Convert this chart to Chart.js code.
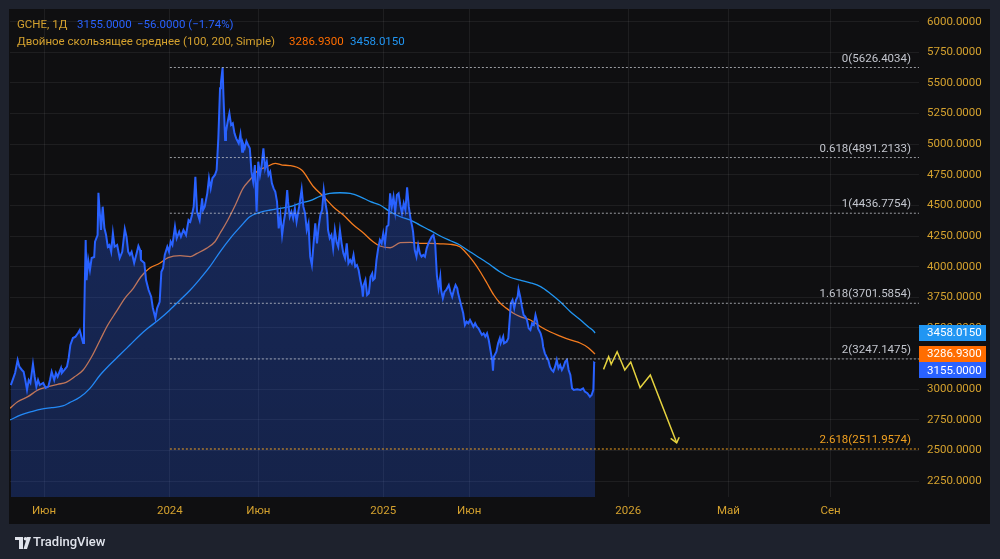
<!DOCTYPE html>
<html>
<head>
<meta charset="utf-8">
<script src="https://cdn.jsdelivr.net/npm/chart.js@4.4.1/dist/chart.umd.min.js"></script>
<style>
html,body{margin:0;padding:0;background:#1e222d;}
#c{display:block;}
</style>
</head>
<body>
<canvas id="c" width="1000" height="559"></canvas>
<script>
// ---------- DATA ----------
const xTickIdx = [40, 188, 292, 439, 540, 727, 845, 965];
const xTickLabels = ['Июн','2024','Июн','2025','Июн','2026','Май','Сен'];
const yTicks = [2250,2500,2750,3000,3250,3500,3750,4000,4250,4500,4750,5000,5250,5500,5750,6000];

// [bar index, close]
const priceSeries = [[1,3034],[4,3092],[6,3132],[9,3238],[11,3184],[14,3157],[16,3143],[18,3075],[20,2994],[22,3075],[24,3051],[27,3206],[29,3102],[31,3021],[33,3075],[35,3034],[39,3051],[42,3010],[45,3021],[47,3075],[49,3143],[52,3075],[54,3132],[56,3102],[60,3173],[61,3132],[64,3157],[67,3184],[69,3255],[71,3361],[74,3418],[77,3429],[80,3459],[82,3483],[84,3429],[86,3377],[87,3510],[89,4218],[90,3891],[92,4055],[94,3973],[96,4071],[99,4079],[100,4204],[103,4259],[104,4604],[107,4300],[109,4490],[111,4316],[113,4259],[115,4163],[117,4177],[119,4122],[121,4275],[123,4163],[126,4177],[129,4071],[132,4122],[135,4308],[137,4245],[139,4122],[141,4096],[143,4122],[146,4030],[149,4112],[151,4169],[153,4136],[154,4055],[158,4030],[160,3891],[163,3810],[166,3755],[168,3663],[171,3579],[173,3660],[176,3714],[178,3959],[180,3987],[182,4096],[185,4163],[187,4122],[189,4204],[191,4177],[194,4327],[196,4232],[199,4286],[201,4245],[204,4300],[207,4259],[210,4381],[212,4367],[214,4422],[216,4490],[218,4735],[220,4449],[223,4381],[226,4558],[227,4463],[229,4490],[232,4599],[234,4722],[236,4640],[238,4722],[241,4749],[243,4789],[245,5048],[247,5456],[248,5497],[250,5626],[251,5402],[253,5034],[254,5102],[256,5184],[258,5252],[260,5157],[262,5171],[264,5089],[266,5048],[269,5007],[271,5081],[273,4939],[274,5007],[276,4967],[278,5026],[280,4994],[282,4967],[284,4776],[286,4694],[288,4830],[290,4449],[292,4857],[294,4749],[296,4830],[298,4967],[300,4803],[302,4857],[304,4749],[306,4776],[308,4681],[310,4640],[312,4612],[314,4531],[316,4313],[318,4422],[320,4259],[322,4367],[324,4449],[326,4626],[327,4531],[329,4408],[331,4449],[333,4395],[335,4477],[337,4367],[340,4490],[343,4632],[345,4490],[347,4436],[349,4300],[351,4354],[353,4082],[355,4014],[357,4191],[359,4354],[361,4191],[363,4327],[365,4422],[367,4463],[369,4626],[371,4518],[373,4436],[374,4300],[376,4232],[378,4259],[380,4150],[382,4300],[384,4204],[386,4163],[388,4300],[390,4191],[392,4109],[394,4069],[396,4191],[398,4028],[400,4055],[402,4028],[404,4096],[406,4000],[408,4014],[410,3973],[412,3891],[414,3824],[415,3755],[416,3851],[418,3891],[420,3769],[422,3783],[424,3918],[426,3946],[427,3891],[429,3905],[431,4055],[433,4150],[435,4218],[437,4191],[439,4273],[441,4191],[443,4327],[445,4340],[447,4599],[449,4490],[451,4571],[453,4449],[455,4585],[457,4599],[459,4504],[461,4436],[463,4518],[465,4463],[467,4648],[469,4490],[471,4395],[473,4327],[474,4286],[476,4136],[478,4082],[480,4177],[482,4109],[484,4082],[486,4096],[488,4082],[490,4150],[492,4191],[494,4218],[496,4245],[498,4259],[500,4191],[502,3932],[504,3824],[506,3918],[507,3810],[509,3742],[511,3796],[513,3810],[516,3851],[518,3796],[520,3755],[522,3810],[524,3851],[526,3824],[527,3783],[529,3728],[531,3674],[533,3620],[535,3524],[537,3551],[539,3538],[541,3565],[543,3538],[545,3510],[547,3538],[549,3510],[551,3497],[553,3469],[555,3443],[557,3456],[559,3429],[561,3456],[563,3402],[565,3320],[567,3239],[568,3151],[569,3265],[572,3306],[574,3375],[576,3416],[577,3375],[580,3429],[581,3375],[584,3388],[586,3416],[587,3510],[589,3701],[591,3728],[593,3660],[595,3728],[597,3755],[598,3816],[600,3755],[602,3674],[604,3606],[606,3592],[608,3565],[610,3497],[612,3483],[614,3538],[616,3524],[618,3606],[620,3551],[621,3497],[624,3456],[626,3402],[627,3347],[629,3293],[631,3265],[633,3239],[635,3184],[637,3157],[639,3143],[641,3184],[643,3239],[645,3171],[647,3198],[649,3157],[651,3184],[653,3225],[655,3239],[657,3157],[659,3116],[661,3007],[663,2994],[667,2999],[671,2994],[674,3007],[676,2980],[679,2967],[682,2939],[684,2953],[686,2994],[687,3216],[688,3211]];

const ma100Series = [[0,2844],[9,2898],[21,2939],[33,2994],[45,3021],[56,3040],[66,3056],[76,3102],[86,3157],[96,3265],[106,3402],[115,3524],[125,3633],[135,3742],[145,3824],[154,3918],[164,3987],[176,4028],[186,4074],[200,4090],[212,4082],[220,4109],[231,4150],[241,4204],[247,4273],[255,4367],[265,4504],[274,4640],[282,4708],[290,4776],[302,4816],[312,4844],[320,4830],[329,4826],[343,4789],[357,4653],[369,4571],[380,4490],[392,4422],[404,4340],[416,4273],[427,4204],[435,4169],[447,4155],[459,4196],[471,4199],[482,4191],[494,4190],[506,4187],[518,4183],[529,4163],[537,4109],[545,4041],[553,3959],[561,3865],[569,3769],[576,3706],[584,3660],[592,3620],[600,3592],[612,3565],[624,3510],[635,3469],[647,3434],[659,3402],[671,3375],[680,3339],[687,3293],[688,3287]];

const ma200Series = [[0,2749],[13,2790],[25,2816],[37,2838],[49,2849],[62,2863],[70,2890],[82,2934],[94,3007],[106,3116],[117,3198],[129,3279],[141,3361],[153,3443],[162,3497],[176,3573],[188,3647],[200,3728],[212,3810],[224,3905],[235,4000],[247,4122],[259,4232],[271,4327],[282,4408],[294,4444],[306,4463],[318,4477],[329,4490],[341,4518],[353,4539],[365,4577],[376,4599],[388,4604],[400,4599],[412,4571],[424,4531],[435,4504],[447,4449],[459,4408],[471,4381],[482,4340],[494,4297],[506,4251],[518,4212],[529,4177],[541,4122],[553,4069],[565,4014],[576,3959],[588,3914],[600,3891],[612,3869],[624,3837],[635,3783],[647,3714],[659,3633],[671,3565],[680,3510],[687,3469],[688,3458]];

const fibLevels = [5626.4034, 4891.2133, 4436.7754, 3701.5854, 3247.1475, 2511.9574];
const fibRatios = ['0', '0.618', '1', '1.618', '2', '2.618'];
const fibStartIdx = 188;

const forecastPath = [[698,3162],[704,3265],[707,3203],[714,3306],[723,3157],[730,3222],[741,3012],[753,3116],[784,2563]];
const forecastArrow = [[777,2599],[784,2563],[787,2608]];

const lastValues = [3458.0150, 3286.9300, 3155.0000];
const lastColors = ['#2196f3', '#ff6d00', '#2962ff'];

const X_MAX = 1069, Y_MIN = 2120, Y_MAX = 6104;

// ---------- BUILD ----------
const pts = a => a.map(p => ({x: p[0], y: p[1]}));
const GOLD = '#d4a12e';
const FONT = 'Roboto, "Noto Sans", sans-serif';

const fibDatasets = fibLevels.map((lv, i) => ({
  data: [{x: fibStartIdx, y: lv}, {x: X_MAX, y: lv}],
  borderColor: i === fibLevels.length - 1 ? '#f0a020' : 'rgba(200,203,210,0.75)',
  borderWidth: 1,
  borderDash: [2, 2],
  pointRadius: 0,
  fill: false
}));

const bgPlugin = {
  id: 'bg',
  beforeDraw(chart) {
    const c = chart.ctx;
    c.save();
    c.fillStyle = '#1e222d';
    c.fillRect(0, 0, chart.width, chart.height);
    c.fillStyle = '#0f0f11';
    c.fillRect(9, 9, 981, 515);
    c.restore();
  }
};

const overlayPlugin = {
  id: 'overlay',
  afterDatasetsDraw(chart) {
    const c = chart.ctx, ys = chart.scales.y, ca = chart.chartArea;
    c.save();
    c.font = '11.5px ' + FONT;
    c.textAlign = 'right';
    c.textBaseline = 'alphabetic';
    fibLevels.forEach((lv, i) => {
      const y = ys.getPixelForValue(lv);
      c.fillStyle = i === fibLevels.length - 1 ? '#f0a020' : '#c3c6ce';
      c.fillText(fibRatios[i] + '(' + lv.toFixed(4) + ')', ca.right - 8, y - 6);
    });
    c.restore();
  },
  afterDraw(chart) {
    const c = chart.ctx, ys = chart.scales.y, ca = chart.chartArea;
    c.save();
    // last value boxes
    c.font = '11.5px ' + FONT;
    c.textBaseline = 'middle';
    c.textAlign = 'left';
    lastValues.forEach((v, i) => {
      const y = ys.getPixelForValue(v);
      c.fillStyle = lastColors[i];
      c.fillRect(ca.right, Math.round(y) - 8, 67, 16);
      c.fillStyle = '#ffffff';
      c.fillText(v.toFixed(4), ca.right + 8, y + 0.5);
    });
    // header
    const seg = (t, x, y, col) => { c.fillStyle = col; c.fillText(t, x, y); };
    c.font = '11.5px ' + FONT;
    seg('GCHE, 1Д', 17, 25, GOLD);
    seg(lastValues[2].toFixed(4), 77, 25, '#2962ff');
    seg('\u221256.0000 (\u22121.74%)', 137, 25, '#2962ff');
    seg('Двойное скользящее среднее (100, 200, Simple)', 17, 42, GOLD);
    seg(lastValues[1].toFixed(4), 289, 42, '#ff6d00');
    seg(lastValues[0].toFixed(4), 350, 42, '#2196f3');
    // logo
    c.fillStyle = '#e0e3eb';
    c.fillRect(15, 537, 8, 3);
    c.fillRect(19, 537, 4, 12);
    c.beginPath(); c.arc(25.5, 538.8, 1.8, 0, Math.PI * 2); c.fill();
    c.beginPath(); c.moveTo(27, 537); c.lineTo(31, 537); c.lineTo(27, 549); c.lineTo(23.5, 549); c.closePath(); c.fill();
    c.font = '500 13px ' + FONT;
    c.fillText('TradingView', 33, 543);
    c.restore();
  }
};

new Chart(document.getElementById('c'), {
  type: 'line',
  data: {
    datasets: [
      { data: pts(forecastArrow), borderColor: '#e6d33f', borderWidth: 1.5, pointRadius: 0, fill: false },
      { data: pts(forecastPath), borderColor: '#e6d33f', borderWidth: 1.5, pointRadius: 0, fill: false },
      ...fibDatasets,
      { data: pts(priceSeries), borderColor: '#2962ff', borderWidth: 2, pointRadius: 0,
        fill: 'start',
        backgroundColor: (ctx) => {
          const ca = ctx.chart.chartArea;
          if (!ca) return 'rgba(41,98,255,0.28)';
          const g = ctx.chart.ctx.createLinearGradient(0, ca.top, 0, ca.bottom);
          g.addColorStop(0, 'rgba(41,98,255,0.32)');
          g.addColorStop(1, 'rgba(41,98,255,0.24)');
          return g;
        }
      },
      { data: pts(ma100Series), borderColor: '#f57c1f', borderWidth: 1.3, pointRadius: 0, fill: false, cubicInterpolationMode: 'monotone' },
      { data: pts(ma200Series), borderColor: '#2196f3', borderWidth: 1.3, pointRadius: 0, fill: false, cubicInterpolationMode: 'monotone' }
    ]
  },
  options: {
    responsive: false,
    devicePixelRatio: 1,
    animation: false,
    events: [],
    layout: { padding: { left: 10, top: 9, right: 0, bottom: 0 } },
    plugins: { legend: { display: false }, tooltip: { enabled: false } },
    scales: {
      x: {
        type: 'linear', min: 0, max: X_MAX,
        grid: { color: 'rgba(242,242,242,0.07)', drawTicks: false },
        border: { display: false },
        afterBuildTicks: s => { s.ticks = xTickIdx.map(v => ({ value: v })); },
        afterFit: s => { s.height = 62; s.paddingLeft = 0; s.paddingRight = 0; },
        ticks: {
          autoSkip: false, maxRotation: 0, padding: 7,
          color: GOLD, font: { family: FONT, size: 11.5 },
          callback: v => { const i = xTickIdx.indexOf(v); return i >= 0 ? xTickLabels[i] : ''; }
        }
      },
      y: {
        type: 'linear', position: 'right', min: Y_MIN, max: Y_MAX,
        grid: { color: 'rgba(242,242,242,0.07)', drawTicks: false },
        border: { display: false },
        afterBuildTicks: s => { s.ticks = yTicks.map(v => ({ value: v })); },
        afterFit: s => { s.width = 81; s.paddingTop = 0; s.paddingBottom = 0; },
        ticks: {
          autoSkip: false, padding: 8, crossAlign: 'near',
          color: GOLD, font: { family: FONT, size: 11.5 },
          callback: v => Number(v).toFixed(4)
        }
      }
    }
  },
  plugins: [bgPlugin, overlayPlugin]
});
</script>
</body>
</html>
